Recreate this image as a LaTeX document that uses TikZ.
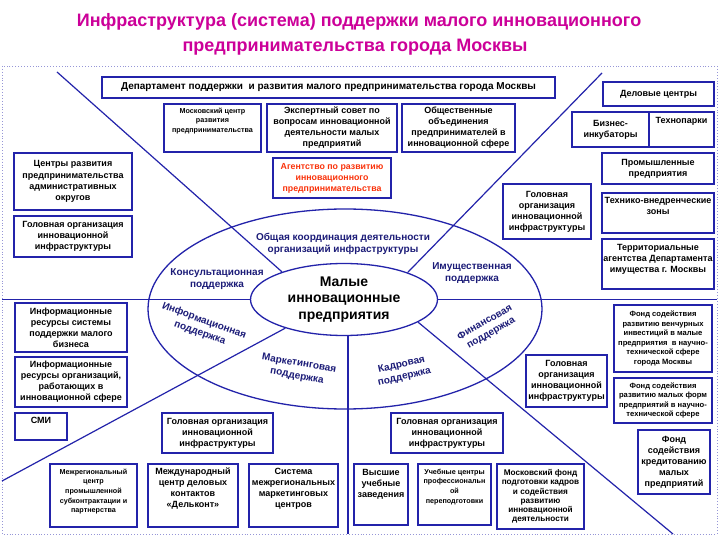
\documentclass[tikz,border=0pt]{standalone}
\usepackage{fontspec}
\setmainfont{Liberation Sans}
\usetikzlibrary{shapes.geometric}
\definecolor{bcol}{RGB}{35,35,170}
\definecolor{ttl}{RGB}{204,0,153}
\definecolor{etxt}{RGB}{28,28,120}
\definecolor{agr}{RGB}{250,50,10}
\definecolor{frm}{RGB}{150,150,215}
\newcommand\bt[4]{\parbox[c][#2pt][#3]{#1pt}{\centering #4}}
\begin{document}
\begin{tikzpicture}[x=1pt,y=-1pt,
 box/.style={draw=bcol,line width=1.3pt,fill=white,inner sep=0pt,font=\bfseries\fontsize{9}{11}\selectfont},
 sm/.style={font=\bfseries\fontsize{7.2}{9.6}\selectfont},
 etx/.style={text=etxt,font=\bfseries\fontsize{10}{12.5}\selectfont,align=center,inner sep=0pt},
 ln/.style={draw=bcol,line width=1.2pt},
 ttlst/.style={text=ttl,font=\bfseries\fontsize{18}{22}\selectfont,inner sep=0pt}]
\useasboundingbox (0,0) rectangle (720,540);
\fill[white] (0,0) rectangle (720,540);
% title
\node[ttlst] (t1) at (359,22) {Инфраструктура (система) поддержки малого инновационного};
\node[ttlst] (t2) at (355,47) {предпринимательства города Москвы};
% frame
\draw[frm,dotted,line width=0.9pt] (2,66) rectangle (717,534);
% outer ellipse
\node[ellipse,draw=bcol,line width=1.3pt,minimum width=394pt,minimum height=200pt,inner sep=0pt] (outer) at (345,309) {};
% core
\coordinate (ul) at (57,72);
\coordinate (ur) at (602,73);
\coordinate (ll) at (2,481);
\coordinate (lr) at (673,534);
\coordinate (hl) at (2,299.5);
\coordinate (hr) at (717,299.5);
\coordinate (vb) at (348,534);
\node[ellipse,draw=bcol,line width=1.3pt,fill=white,minimum width=187pt,minimum height=72pt,inner sep=0pt,
  font=\bfseries\fontsize{14}{16.5}\selectfont,align=center] (core) at (344,299.5) {Малые\\инновационные\\предприятия};
\draw[ln] (ul) -- (core.156.5);
\draw[ln] (ur) -- (core.23.5);
\draw[ln] (ll) -- (core.206.2);
\draw[ln] (lr) -- (core.343.2);
\draw[ln] (hl) -- (core.west);
\draw[ln] (core.east) -- (hr);
\draw[ln] (vb |- core.south) -- (vb);
% ellipse labels
\node[etx] (lgen) at (343,244) {Общая координация деятельности\\организаций инфраструктуры};
\node[etx] (lkon) at (217,279) {Консультационная\\поддержка};
\node[etx] (limu) at (472,273) {Имущественная\\поддержка};
\node[etx,rotate=-20] (linf) at (202,327) {Информационная\\поддержка};
\node[etx,rotate=-10] (lmar) at (298,370) {Маркетинговая\\поддержка};
\node[etx,rotate=13] (lkad) at (403,371) {Кадровая\\поддержка};
\node[etx,rotate=30] (lfin) at (488,328) {Финансовая\\поддержка};
% top boxes
\node[box,font=\bfseries\fontsize{10}{11}\selectfont] (dep) at (328.5,87.5) {\bt{453}{21}{c}{Департамент поддержки\ \ и развития малого предпринимательства города Москвы}};
\node[box] (del) at (658.5,94) {\bt{111}{24}{c}{Деловые центры}};
\node[box] (biz) at (610.5,129.5) {\bt{77}{35}{c}{Бизнес-\\инкубаторы}};
\node[box] (tech) at (681.5,129.5) {\bt{65}{35}{t}{\vspace*{5pt}Технопарки}};
\node[box,sm] (mcr) at (212.5,128) {\bt{97}{48}{t}{\vspace*{4pt}Московский центр\\развития\\предпринимательства}};
\node[box] (exp) at (332,128) {\bt{130}{48}{c}{Экспертный совет по\\вопросам инновационной\\деятельности малых\\предприятий}};
\node[box] (obs) at (458.5,128) {\bt{113}{48}{c}{Общественные\\объединения\\предпринимателей в\\инновационной сфере}};
\node[box,text=agr,font=\bfseries\fontsize{8.8}{11}\selectfont] (ag) at (332,178) {\bt{118}{40}{c}{Агентство по развитию\\инновационного\\предпринимательства}};
% left upper
\node[box] (cr) at (73,181.5) {\bt{118}{57}{c}{Центры развития\\[1.5pt]предпринимательства\\административных\\округов}};
\node[box] (gl1) at (73,236.5) {\bt{118}{41}{c}{Головная организация\\инновационной\\инфраструктуры}};
% right upper
\node[box] (gr1) at (547,211.5) {\bt{88}{55}{c}{Головная\\организация\\инновационной\\инфраструктуры}};
\node[box] (prom) at (658,168.5) {\bt{112}{31}{c}{Промышленные\\предприятия}};
\node[box] (tvz) at (658,213) {\bt{112}{40}{t}{\vspace*{4pt}Технико-внедренческие\\зоны}};
\node[box] (terr) at (658,264) {\bt{112}{50}{t}{\vspace*{5pt}Территориальные\\агентства Департамента\\имущества г. Москвы}};
% left lower
\node[box] (ir1) at (71,327.5) {\bt{112}{49}{c}{Информационные\\ресурсы системы\\поддержки малого\\бизнеса}};
\node[box] (ir2) at (71,382) {\bt{112}{50}{c}{Информационные\\ресурсы организаций,\\работающих в\\инновационной сфере}};
\node[box] (smi) at (41,426.5) {\bt{52}{27}{t}{\vspace*{4pt}СМИ}};
% bottom middle
\node[box] (gl2) at (217.5,433) {\bt{111}{40}{c}{Головная организация\\инновационной\\инфраструктуры}};
\node[box] (gl3) at (447,433) {\bt{112}{40}{c}{Головная организация\\инновационной\\инфраструктуры}};
% right lower
\node[box] (gr2) at (566.5,381) {\bt{81}{52}{c}{Головная\\организация\\инновационной\\инфраструктуры}};
\node[box,font=\bfseries\fontsize{7.6}{9.6}\selectfont] (fv) at (663,338.5) {\bt{98}{67}{c}{Фонд содействия\\развитию венчурных\\инвестиций в малые\\предприятия\ \ в научно-\\технической сфере\\города Москвы}};
\node[box,font=\bfseries\fontsize{7.6}{9.6}\selectfont] (fm) at (663,400.5) {\bt{98}{45}{c}{Фонд содействия\\развитию малых форм\\предприятий в научно-\\технической сфере}};
\node[box] (fk) at (674,462) {\bt{72}{64}{c}{Фонд\\содействия\\кредитованию\\малых\\предприятий}};
% bottom row
\node[box,sm] (mz) at (93.5,495.5) {\bt{87}{63}{t}{\vspace*{5pt}Межрегиональный\\центр\\промышленной\\субконтрактации и\\партнерства}};
\node[box] (md) at (193,495.5) {\bt{90}{63}{t}{\vspace*{4pt}Международный\\центр деловых\\контактов\\«Дельконт»}};
\node[box] (sys) at (293.5,495.5) {\bt{89}{63}{t}{\vspace*{4pt}Система\\межрегиональных\\маркетинговых\\центров}};
\node[box] (vuz) at (381,494.5) {\bt{54}{61}{t}{\vspace*{5pt}Высшие\\учебные\\заведения}};
\node[box,sm] (uc) at (454.5,494.5) {\bt{73}{61}{t}{\vspace*{5pt}Учебные центры\\профессиональн\\ой\\переподготовки}};
\node[box,font=\bfseries\fontsize{8.2}{9.2}\selectfont] (mf) at (540.5,496.5) {\bt{87}{65}{c}{Московский фонд\\подготовки кадров\\и содействия\\развитию\\инновационной\\деятельности}};
\end{tikzpicture}
\end{document}
